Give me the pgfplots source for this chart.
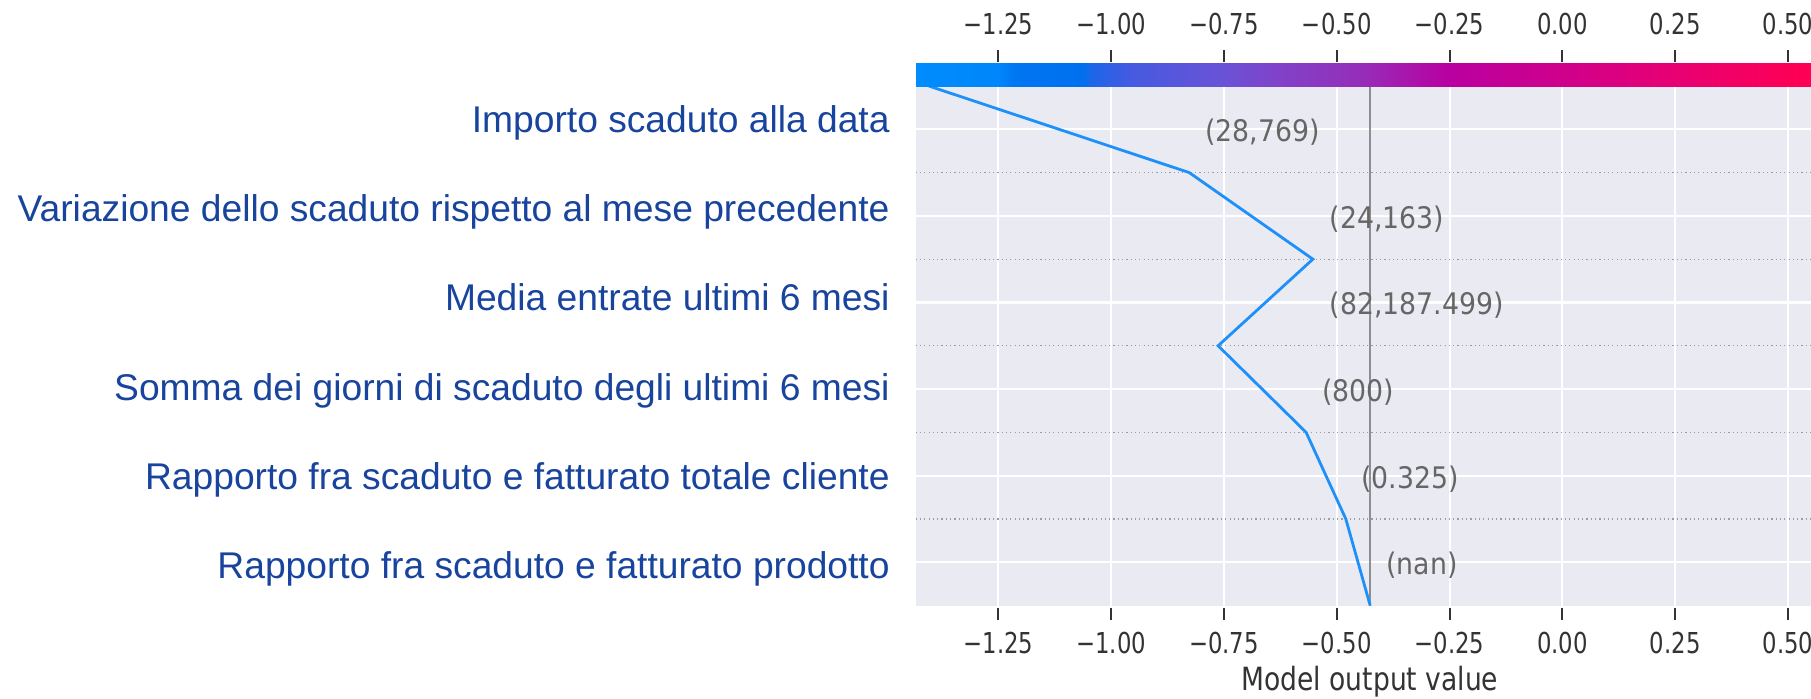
\documentclass[border=0pt]{standalone}
\usepackage{fontspec}
\usepackage{pgfplots}
\pgfplotsset{compat=1.18}
\newfontfamily\leftfont{Liberation Sans}
\newfontfamily\tickfont{DejaVu Sans}[FakeStretch=0.79]
\newfontfamily\valfont{DejaVu Sans}[FakeStretch=0.9]
\newfontfamily\labfont{DejaVu Sans}[FakeStretch=0.83]
\definecolor{bgcol}{RGB}{234,234,242}
\definecolor{tickcol}{RGB}{51,51,51}
\definecolor{labblue}{RGB}{24,68,158}
\definecolor{valgray}{RGB}{102,102,102}
\definecolor{basecol}{RGB}{142,142,142}
\definecolor{linecol}{RGB}{30,144,250}
\definecolor{dotgray}{RGB}{155,155,160}
\begin{document}
\begin{tikzpicture}
\begin{axis}[
  scale only axis, width=454.2pt, height=259.75pt,
  xmin=-1.4333, xmax=0.58, ymin=0, ymax=6,
  clip=false,
  axis background/.style={fill=bgcol},
  axis line style={draw=none},
  xtick={-1.25,-1,-0.75,-0.5,-0.25,0,0.25,0.5},
  xticklabels={−1.25,−1.00,−0.75,−0.50,−0.25,0.00,0.25,0.50},
  xtick pos=left, ytick pos=left,
  tick align=inside, major tick length=6pt, minor tick length=0pt,
  xtick style={draw=tickcol, line width=1pt, yshift=-7.4pt},
  ytick style={draw=none},
  xticklabel style={font=\tickfont\fontsize{14.4}{16}\selectfont, text=tickcol, anchor=base, inner sep=0pt, yshift=-23.9pt},
  ytick={0.5,1.5,2.5,3.5,4.5,5.5},
  yticklabels={\raisebox{-8.1pt}{Rapporto fra scaduto e fatturato prodotto},
               \raisebox{-6.8pt}{Rapporto fra scaduto e fatturato totale cliente},
               \raisebox{-5.5pt}{Somma dei giorni di scaduto degli ultimi 6 mesi},
               \raisebox{-4.2pt}{Media entrate ultimi 6 mesi},
               \raisebox{-2.9pt}{Variazione dello scaduto rispetto al mese precedente},
               \raisebox{-1.6pt}{Importo scaduto alla data}},
  yticklabel style={font=\leftfont\fontsize{18.6}{22}\selectfont, text=labblue, anchor=base east, inner sep=0pt, xshift=-12.85pt},
  minor ytick={1,2,3,4,5},
  xmajorgrids, ymajorgrids, yminorgrids,
  major grid style={white, line width=1.05pt},
  minor grid style={dotgray, line width=0.6pt, dash pattern=on 0.6pt off 1.55pt},
  xlabel={Model output value},
  xlabel style={font=\labfont\fontsize{16}{18}\selectfont, text=tickcol, at={(axis description cs:0.5,0)}, anchor=base, inner sep=0pt, yshift=-42.5pt},
  colormap={shap}{rgb255(0)=(0,140,252) rgb255(183)=(0,135,250) rgb255(220)=(0,118,242) rgb255(370)=(0,112,238) rgb255(390)=(30,102,232) rgb255(480)=(70,90,225) rgb255(683)=(106,82,214) rgb255(810)=(130,65,200) rgb255(987)=(150,45,185) rgb255(1183)=(185,0,160) rgb255(1433)=(207,0,140) rgb255(1683)=(232,0,115) rgb255(1933)=(252,0,88) rgb255(2013)=(255,0,82)},
  point meta min=-1.4333, point meta max=0.58,
  colorbar horizontal,
  colorbar shift/.style={},
  colorbar style={
    at={(parent axis.north west)}, anchor=south west,
    xshift=0pt, yshift=0pt,
    scale only axis, width=454.2pt, height=11.25pt,
    axis line style={draw=none},
    ytick=\empty,
    xtick={-1.25,-1,-0.75,-0.5,-0.25,0,0.25,0.5},
    xticklabels={−1.25,−1.00,−0.75,−0.50,−0.25,0.00,0.25,0.50},
    xtick pos=right, xticklabel pos=right,
    tick align=inside, major tick length=6pt,
    xtick style={draw=tickcol, line width=1pt, yshift=6.65pt},
    xticklabel style={font=\tickfont\fontsize{14.4}{16}\selectfont, text=tickcol, anchor=base, inner sep=0pt, yshift=14.5pt},
  },
]
\addplot[basecol, line width=1.3pt] coordinates {(-0.426,0) (-0.426,6)};
\addplot[linecol, line width=1.4pt] coordinates {(-0.426,0) (-0.480,1) (-0.568,2) (-0.763,3) (-0.553,4) (-0.827,5) (-1.404,6)};
\begin{scope}[every node/.style={anchor=base west, inner sep=0pt, font=\valfont\fontsize{14.85}{16}\selectfont, text=valgray, yshift=-6.2pt}]
\node at (axis cs:-0.792,5.5) {(28,769)};
\node at (axis cs:-0.516,4.5) {(24,163)};
\node at (axis cs:-0.516,3.5) {(82,187.499)};
\node at (axis cs:-0.533,2.5) {(800)};
\node at (axis cs:-0.446,1.5) {(0.325)};
\node at (axis cs:-0.391,0.5) {(nan)};
\end{scope}
\end{axis}
\pgfresetboundingbox
\path[use as bounding box] (-457.85pt,-46.25pt) rectangle (447.65pt,302.75pt);
\end{tikzpicture}
\end{document}
